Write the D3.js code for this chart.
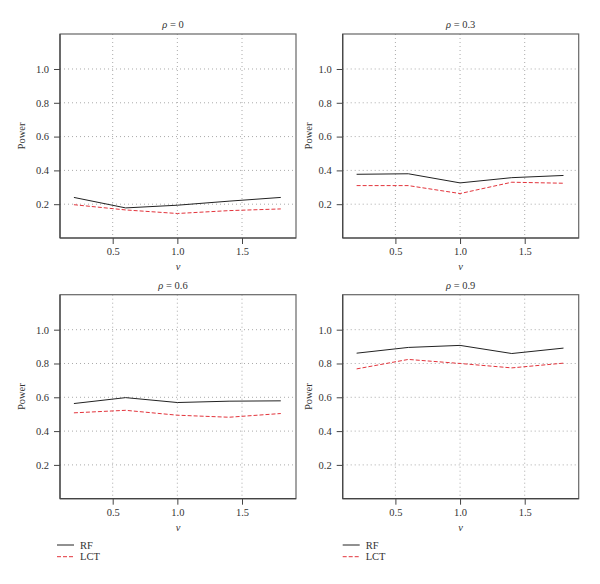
<!DOCTYPE html>
<html><head><meta charset="utf-8">
<script src="https://cdn.jsdelivr.net/npm/d3@7"></script>
<style>body{margin:0;background:#fff}svg{display:block}text{font-family:"Liberation Serif","DejaVu Serif",serif;fill:#333}</style>
</head><body>
<script>
const nu = [0.2, 0.6, 1.0, 1.4, 1.8];
const rhoLabels = ["0", "0.3", "0.6", "0.9"];
const rf = [
  [0.240, 0.178, 0.194, 0.218, 0.240],
  [0.377, 0.380, 0.326, 0.357, 0.370],
  [0.563, 0.598, 0.569, 0.577, 0.579],
  [0.861, 0.895, 0.907, 0.859, 0.891]
];
const lct = [
  [0.197, 0.166, 0.145, 0.162, 0.172],
  [0.310, 0.310, 0.263, 0.330, 0.324],
  [0.508, 0.523, 0.494, 0.482, 0.504],
  [0.768, 0.824, 0.800, 0.774, 0.802]
];
const yTicks = [0.2, 0.4, 0.6, 0.8, 1.0];
const xTicks = [0.5, 1.0, 1.5];
const seriesNames = ["RF", "LCT"];

const W = 600, H = 584;
const svg = d3.select("body").append("svg").attr("width", W).attr("height", H);

const panels = [
  {x0: 60, y0: 34},
  {x0: 342.7, y0: 34},
  {x0: 60, y0: 294.7},
  {x0: 342.7, y0: 294.7}
];
const pw = 236, ph = 204;
const colors = ["#222", "#e3343c"];

panels.forEach((p, i) => {
  const g = svg.append("g").attr("transform", `translate(${p.x0},${p.y0})`);
  const x = d3.scaleLinear().domain([0.0924, 1.9176]).range([0, pw]);
  const y = d3.scaleLinear().domain([0, 1.207]).range([ph, 0]);

  // grid
  g.selectAll(".gy").data(yTicks).enter().append("line")
    .attr("x1", 0).attr("x2", pw).attr("y1", d => y(d)).attr("y2", d => y(d))
    .attr("stroke", "#aaa").attr("stroke-width", 1).attr("stroke-dasharray", "1,3");
  g.selectAll(".gx").data(xTicks).enter().append("line")
    .attr("y1", 0).attr("y2", ph).attr("x1", d => x(d)).attr("x2", d => x(d))
    .attr("stroke", "#aaa").attr("stroke-width", 1).attr("stroke-dasharray", "1,3");

  // box
  g.append("rect").attr("x", 0).attr("y", 0).attr("width", pw).attr("height", ph)
    .attr("fill", "none").attr("stroke", "#666").attr("stroke-width", 1.2);

  // axes
  const ya = g.append("g").call(d3.axisLeft(y).tickValues(yTicks).tickFormat(d3.format(".1f")).tickSize(6).tickPadding(5));
  const xa = g.append("g").attr("transform", `translate(0,${ph})`)
    .call(d3.axisBottom(x).tickValues(xTicks).tickFormat(d3.format(".1f")).tickSize(6).tickPadding(4));
  [ya, xa].forEach(a => {
    a.select(".domain").remove();
    a.selectAll("line").attr("stroke", "#444");
    a.selectAll("text").attr("font-size", 10.5).attr("fill", "#333")
      .style("font-family", '"Liberation Serif","DejaVu Serif",serif');
  });
  g.append("line").attr("x1", 0).attr("x2", 0).attr("y1", 0).attr("y2", ph).attr("stroke", "#444").attr("stroke-width", 1.2);
  g.append("line").attr("x1", 0).attr("x2", pw).attr("y1", ph).attr("y2", ph).attr("stroke", "#444").attr("stroke-width", 1.2);

  // lines
  const line = d3.line().x((d, j) => x(nu[j])).y(d => y(d));
  g.append("path").datum(rf[i]).attr("d", line).attr("fill", "none")
    .attr("stroke", colors[0]).attr("stroke-width", 1);
  g.append("path").datum(lct[i]).attr("d", line).attr("fill", "none")
    .attr("stroke", colors[1]).attr("stroke-width", 1).attr("stroke-dasharray", "4,2");

  // title
  const t = g.append("text").attr("x", pw / 2 - (i % 2 === 0 ? 5 : 0)).attr("y", -6)
    .attr("text-anchor", "middle").attr("font-size", 10.5);
  t.append("tspan").attr("font-style", "italic").text("ρ");
  t.append("tspan").text(" = " + rhoLabels[i]);

  // axis labels
  g.append("text").attr("transform", `translate(${i % 2 === 0 ? -35 : -31},${ph / 2}) rotate(-90)`)
    .attr("text-anchor", "middle").attr("font-size", 10.5).text("Power");
  g.append("text").attr("x", pw / 2).attr("y", ph + 32).attr("text-anchor", "middle")
    .attr("font-size", 10.5).attr("font-style", "italic").text("ν");

  // legend (bottom panels)
  if (i >= 2) {
    const lg = svg.append("g").attr("transform", `translate(${p.x0 - (i === 2 ? 3 : 0)},545)`);
    seriesNames.forEach((s, k) => {
      lg.append("line").attr("x1", 0).attr("x2", 17).attr("y1", k * 11.7).attr("y2", k * 11.7)
        .attr("stroke", colors[k]).attr("stroke-width", 1)
        .attr("stroke-dasharray", k === 1 ? "4,2" : null);
      lg.append("text").attr("x", 23).attr("y", k * 11.7 + 3.5).attr("font-size", 10.5).text(s);
    });
  }
});
</script>
</body></html>
